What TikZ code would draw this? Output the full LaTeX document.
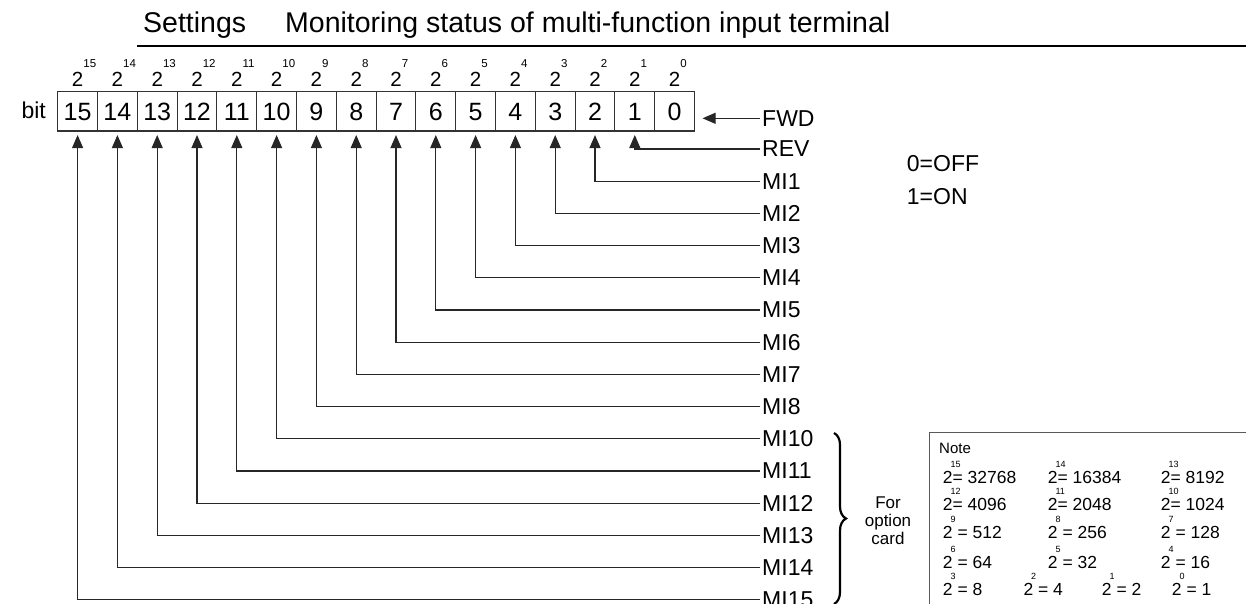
\documentclass[tikz,border=0pt]{standalone}
\usepackage{fontspec}
\setmainfont{Liberation Sans}
\usetikzlibrary{arrows.meta,decorations.pathreplacing}
\newcommand\fs[1]{\fontsize{#1}{#1}\selectfont}
\newcommand\nsup[1]{\makebox[0pt][l]{\hspace{-2pt}\raisebox{15.5pt}{\fs{9}#1}}}
\begin{document}
\begin{tikzpicture}[x=1pt,y=-1pt,
  wire/.style={draw=black!85,line width=1.1pt},
  uptip/.style={-{Triangle[width=11pt,length=13pt]},shorten >=3.5pt},
  bitbox/.style={draw=black!80,line width=1.1pt,minimum width=39.8pt,minimum height=39.4pt,inner sep=0pt,text height=17.9pt,text depth=0pt,font=\fs{25}},
  lbl/.style={anchor=west,inner xsep=2pt,inner ysep=0pt,font=\fs{23}},
  base2/.style={anchor=base,inner sep=0pt,font=\fs{20.5}},
  expo/.style={anchor=base west,inner sep=0pt,font=\fs{11.5}},
  note/.style={anchor=base west,inner sep=0pt,font=\fs{17.5}},
  ttl/.style={anchor=base west,inner sep=0pt,font=\fs{28.5}},
]
\useasboundingbox (0,0) rectangle (1246,603);
\fill[white] (0,0) rectangle (1246,603);
% title
\node[ttl] (set) at (143,32) {Settings};
\node[ttl] (mon) at (285,32) {Monitoring status of multi-function input terminal};
\coordinate (tl) at (137,46);
\coordinate (tr) at (1246,46);
\draw[line width=1.2pt] (tl) -- (tr);
% bit label
\node[anchor=base east,inner sep=0pt,font=\fs{23}] (bit) at (46,118.3) {bit};
% boxes and exponents
\foreach \i in {0,...,15}{
  \pgfmathsetmacro\cx{674.6-39.8*\i}
  \pgfmathsetmacro\sx{\cx+5.6}
  \node[bitbox] (b\i) at (\cx,111.3) {\i};
  \node[base2] (e\i) at (\cx,86.5) {2};
  \node[expo] (s\i) at (\sx,67) {\i};
}
% FWD
\node[lbl] (l0) at (760,118.3) {FWD};
\draw[wire,-{Triangle[width=11pt,length=13pt]},shorten >=7.5pt] (l0.west) -- (b0.east |- l0.west);
% other inputs
\foreach \i/\t in {1/REV,2/MI1,3/MI2,4/MI3,5/MI4,6/MI5,7/MI6,8/MI7,9/MI8,10/MI10,11/MI11,12/MI12,13/MI13,14/MI14,15/MI15}{
  \pgfmathsetmacro\ly{149+32.2*(\i-1)}
  \node[lbl] (l\i) at (760,\ly) {\t};
  \draw[wire,uptip] (l\i.west) -| (b\i.south);
}
% legend
\node[anchor=west,inner sep=0pt,font=\fs{23}] (off) at (906.7,164) {0=OFF};
\node[anchor=west,inner sep=0pt,font=\fs{23}] (on) at (906.7,196.5) {1=ON};
% brace
\coordinate (bt) at (834,433);
\coordinate (bb) at (834,604);
\draw[decorate,decoration={brace,amplitude=12pt},line width=2.2pt] (bt) -- (bb);
\node[align=center,inner sep=0pt,font=\fontsize{17}{18}\selectfont] (opt) at (888,521) {For\\option\\card};
% note box
\draw[draw=black!65,line width=1.3pt] (1260,432.7) -- (929.3,432.7) -- (929.3,620);
\node[anchor=west,inner sep=0pt,font=\fs{15}] (nt) at (939,448) {Note};
\node[note] (n15) at (942.7,483.3) {2\nsup{15}= 32768};
\node[note] (n14) at (1047.7,483.3) {2\nsup{14}= 16384};
\node[note] (n13) at (1160.7,483.3) {2\nsup{13}= 8192};
\node[note] (n12) at (942.7,510) {2\nsup{12}= 4096};
\node[note] (n11) at (1047.7,510) {2\nsup{11}= 2048};
\node[note] (n10) at (1160.7,510) {2\nsup{10}= 1024};
\node[note] (n9) at (942.7,538.3) {2\nsup{9} = 512};
\node[note] (n8) at (1047.7,538.3) {2\nsup{8} = 256};
\node[note] (n7) at (1160.7,538.3) {2\nsup{7} = 128};
\node[note] (n6) at (942.7,568) {2\nsup{6} = 64};
\node[note] (n5) at (1047.7,568) {2\nsup{5} = 32};
\node[note] (n4) at (1160.7,568) {2\nsup{4} = 16};
\node[note] (n3) at (942.7,595) {2\nsup{3} = 8};
\node[note] (n2) at (1023.3,595) {2\nsup{2} = 4};
\node[note] (n1) at (1101.7,595) {2\nsup{1} = 2};
\node[note] (n0) at (1171.7,595) {2\nsup{0} = 1};
\end{tikzpicture}
\end{document}
